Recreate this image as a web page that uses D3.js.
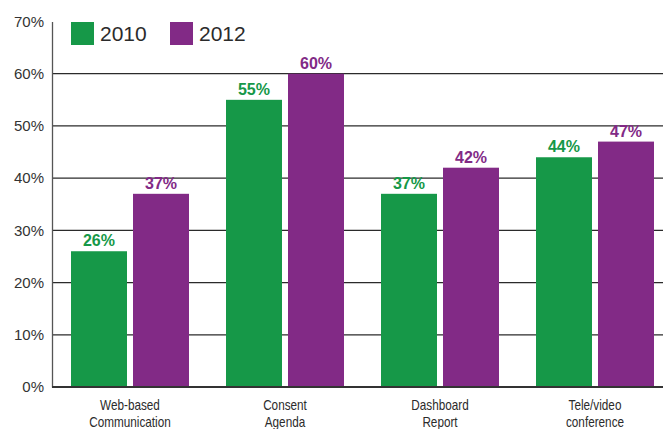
<!DOCTYPE html>
<html>
<head>
<meta charset="utf-8">
<script src="https://cdn.jsdelivr.net/npm/d3@7"></script>
<style>
  html, body { margin: 0; padding: 0; background: #fff; }
  svg { display: block; }
</style>
</head>
<body>
<svg id="chart" width="663" height="429"></svg>
<script>
// Survey data: share of respondents using each practice
const categories = [["Web-based", "Communication"], ["Consent", "Agenda"], ["Dashboard", "Report"], ["Tele/video", "conference"]];
const seriesNames = ["2010", "2012"];
const values2010 = [26, 55, 37, 44];
const values2012 = [37, 60, 42, 47];
const yTicks = [0, 10, 20, 30, 40, 50, 60, 70];

const colors = { "2010": "#169848", "2012": "#822a86" };
const font = "'Liberation Sans', Arial, sans-serif";

const svg = d3.select("#chart");
const margin = { left: 52, top: 21.5, right: 663, bottom: 387 };

const y = d3.scaleLinear().domain([0, 70]).range([margin.bottom, margin.top]);
const x0 = d3.scaleBand()
  .domain(d3.range(categories.length))
  .range([52, 672])
  .paddingInner(0)
  .paddingOuter(0);
const x1 = d3.scaleBand().domain(seriesNames).range([19, 137]).paddingInner(0.097);

// Gridlines
svg.append("g")
  .selectAll("line")
  .data(yTicks.filter(t => t > 0 && t < 70))
  .join("line")
  .attr("x1", margin.left).attr("x2", 663)
  .attr("y1", d => y(d)).attr("y2", d => y(d))
  .attr("stroke", "#2b2b2b").attr("stroke-width", 1.3);

// Y axis
const yAxis = svg.append("g")
  .attr("transform", `translate(${margin.left},0)`)
  .call(d3.axisLeft(y).tickValues(yTicks).tickSize(0).tickPadding(8).tickFormat(d => d + "%"));
yAxis.select(".domain").attr("stroke", "#555").attr("stroke-width", 1.3);
yAxis.selectAll("text")
  .attr("font-family", font).attr("font-size", 15).attr("fill", "#333");

// Bars
const rows = categories.map((c, i) => ({ i, vals: [
  { key: "2010", v: values2010[i] },
  { key: "2012", v: values2012[i] }
]}));

const groups = svg.append("g").selectAll("g")
  .data(rows).join("g")
  .attr("transform", d => `translate(${x0(d.i)},0)`);

groups.selectAll("rect")
  .data(d => d.vals).join("rect")
  .attr("x", d => x1(d.key))
  .attr("width", x1.bandwidth())
  .attr("y", d => y(d.v))
  .attr("height", d => y(0) - y(d.v))
  .attr("fill", d => colors[d.key]);

groups.selectAll("text.val")
  .data(d => d.vals).join("text")
  .attr("class", "val")
  .attr("x", d => x1(d.key) + x1.bandwidth() / 2)
  .attr("y", d => y(d.v) - 5)
  .attr("text-anchor", "middle")
  .attr("font-family", font)
  .attr("font-weight", "bold")
  .attr("font-size", 16)
  .attr("fill", d => colors[d.key])
  .text(d => d.v + "%");

// Category labels, horizontally condensed
groups.append("text")
  .attr("transform", "translate(78,0) scale(0.84,1)")
  .attr("text-anchor", "middle")
  .attr("font-family", font).attr("font-size", 14).attr("fill", "#2b2b2b")
  .selectAll("tspan")
  .data(d => categories[d.i]).join("tspan")
  .attr("x", 0)
  .attr("y", (d, k) => 410 + k * 17)
  .text(d => d);

// Baseline
svg.append("line")
  .attr("x1", margin.left).attr("x2", 663)
  .attr("y1", y(0)).attr("y2", y(0))
  .attr("stroke", "#333").attr("stroke-width", 2);

// Legend
const legend = svg.append("g").selectAll("g")
  .data(seriesNames).join("g")
  .attr("transform", (d, i) => `translate(${71 + i * 99},22)`);
legend.append("rect").attr("width", 23).attr("height", 23).attr("fill", d => colors[d]);
legend.append("text")
  .attr("x", 29).attr("y", 19)
  .attr("font-family", font)
  .attr("font-size", 21).attr("fill", "#2b2b2b")
  .text(d => d);
</script>
</body>
</html>
